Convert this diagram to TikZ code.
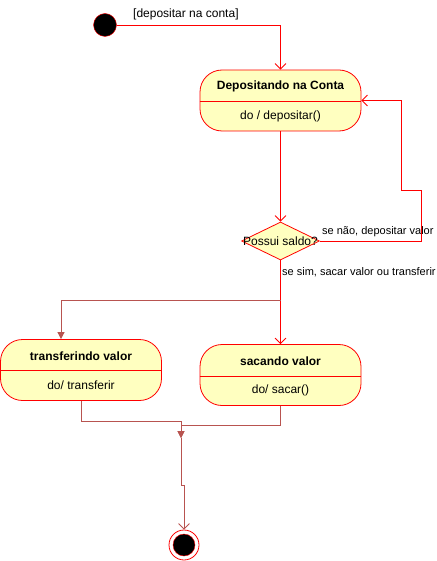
\documentclass[tikz,border=0pt]{standalone}
\usepackage{fontspec}
\setmainfont{Liberation Sans}
\usetikzlibrary{arrows.meta,shapes.geometric}
\definecolor{umlred}{HTML}{FF0000}
\definecolor{umlbrown}{HTML}{B85450}
\definecolor{umlfill}{HTML}{FFFFC0}
\begin{document}
\begin{tikzpicture}[x=1pt,y=-1pt,
 statebox/.style={draw=umlred, fill=umlfill, rounded corners=22pt, minimum width=161pt, minimum height=61pt, line width=0.8pt, inner sep=0pt},
 ttl/.style={font=\bfseries\fontsize{12}{14}\selectfont, inner sep=0pt},
 txt/.style={font=\fontsize{12}{14}\selectfont, inner sep=0pt},
 lbl/.style={font=\fontsize{11}{13}\selectfont, anchor=west, inner sep=0pt},
 divider/.style={draw=umlred, line width=0.8pt},
 redge/.style={draw=umlred, line width=0.8pt, -{Straight Barb[length=5.5pt,width=11pt]}},
 bedge/.style={draw=umlbrown, line width=0.8pt, -{Triangle[length=7pt,width=7pt]}},
]
\useasboundingbox (0,0) rectangle (436,561);

% initial state
\node[circle, fill=black, draw=umlred, minimum size=23pt, inner sep=0pt] (init) at (105,25) {};

% state 1
\node[statebox] (s1) at (280.5,100.5) {};
\draw[divider] (s1.west |- 0,101) -- (s1.east |- 0,101);
\node[ttl] (s1t) at (280.5,86) {Depositando na Conta};
\node[txt] (s1b) at (280.5,116) {do / depositar()};

% decision
\node[diamond, draw=umlred, fill=umlfill, minimum width=78pt, minimum height=38pt, inner sep=0pt, line width=0.8pt] (d) at (280.5,241) {};
\node[txt] (dt) at (d) {Possui saldo?};

% state 2
\node[statebox] (s2) at (81,370) {};
\draw[divider] (s2.west |- 0,370) -- (s2.east |- 0,370);
\node[ttl] (s2t) at (81,356) {transferindo valor};
\node[txt] (s2b) at (81,385) {do/ transferir};

% state 3
\node[statebox] (s3) at (280.5,375) {};
\draw[divider] (s3.west |- 0,376) -- (s3.east |- 0,376);
\node[ttl] (s3t) at (280.5,361) {sacando valor};
\node[txt] (s3b) at (280.5,390) {do/ sacar()};

% final state
\node[circle, draw=umlred, fill=white, minimum size=30pt, inner sep=0pt, line width=0.8pt] (fin) at (184,545) {};
\node[circle, fill=black, draw=umlred, minimum size=22pt, inner sep=0pt] (fincore) at (fin) {};

% edges
\draw[redge] (init) -| (s1);
\node[lbl, font=\fontsize{12}{14}\selectfont] (l1) at (133,14) {[depositar na conta]};

\draw[redge] (s1) -- (d);
\draw[redge] (d.east) -- (421,241) -- (421,190) -- (401,190) |- (s1.east);
\node[lbl] (l2) at (322,232) {se não, depositar valor};

\draw[redge] (d) -- (s3);
\node[lbl] (l3) at (282,272) {se sim, sacar valor ou transferir};

\coordinate (br) at (280.5,300);
\draw[bedge] (br) -| ([xshift=-20pt]s2.north);

\coordinate (m) at (181,438);
\draw[bedge] (s2.south) -- (81,421) -- (181,421) -- (m);
\draw[bedge] (s3.south) -- (280.5,425) -- (181,425) -- (m);
\draw[draw=umlbrown, line width=0.8pt, -{Straight Barb[length=5.5pt,width=11pt]}] (m) -- (181,485) -- (184,485) -- (fin);
\end{tikzpicture}
\end{document}
